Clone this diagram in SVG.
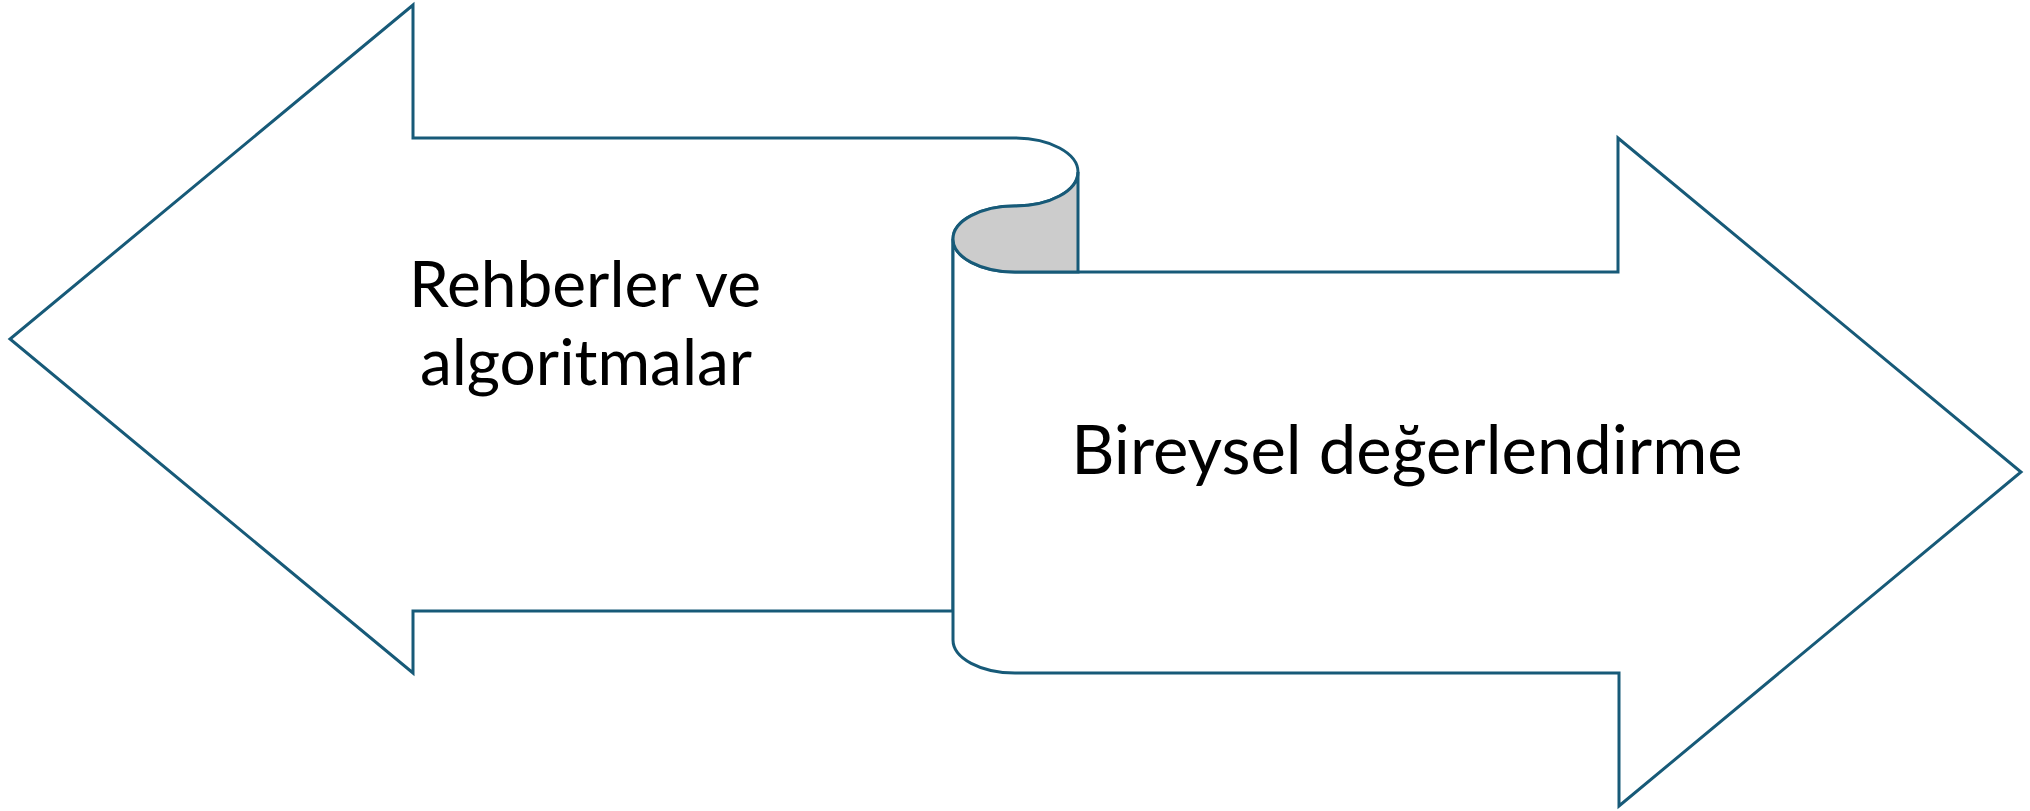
<svg xmlns="http://www.w3.org/2000/svg" width="2030" height="811" viewBox="0 0 2030 811">
<style>
.sh{fill:#ffffff;stroke:#175A78;stroke-width:3;stroke-linejoin:miter}
.fold{fill:#CCCCCC;stroke:#175A78;stroke-width:3}
.lbl{font-family:Lato,"Open Sans","Liberation Sans",sans-serif;font-size:67px;fill:#000000}
.lbl2{font-size:64px}
</style>
<rect width="2030" height="811" fill="#ffffff"/>
<g id="left-arrow">
<path class="sh" d="M413,138 L1015,138 A63,34 0 0 1 1078,172 A63,34 0 0 1 1015,206 A62,33 0 0 0 953,239 L953,611 L413,611 L413,673 L10,339 L413,5 Z"/>
<text class="lbl lbl2" text-anchor="middle"><tspan x="585" y="307">Rehberler ve</tspan><tspan x="586" y="385">algoritmalar</tspan></text>
</g>
<g id="right-arrow">
<path class="sh" d="M953,239 L953,640 A62,33 0 0 0 1015,673 L1619,673 L1619,806 L2021,472 L1618,138 L1618,272 L1015,272 A62,33 0 0 1 953,239 Z"/>
<text class="lbl" x="1407" y="474" text-anchor="middle">Bireysel değerlendirme</text>
</g>
<g id="scroll-fold">
<path class="fold" d="M1078,172 A63,34 0 0 1 1015,206 A62,33 0 0 0 953,239 A62,33 0 0 0 1015,272 L1078,272 Z"/>
</g>
<g id="connectors"></g>
</svg>
